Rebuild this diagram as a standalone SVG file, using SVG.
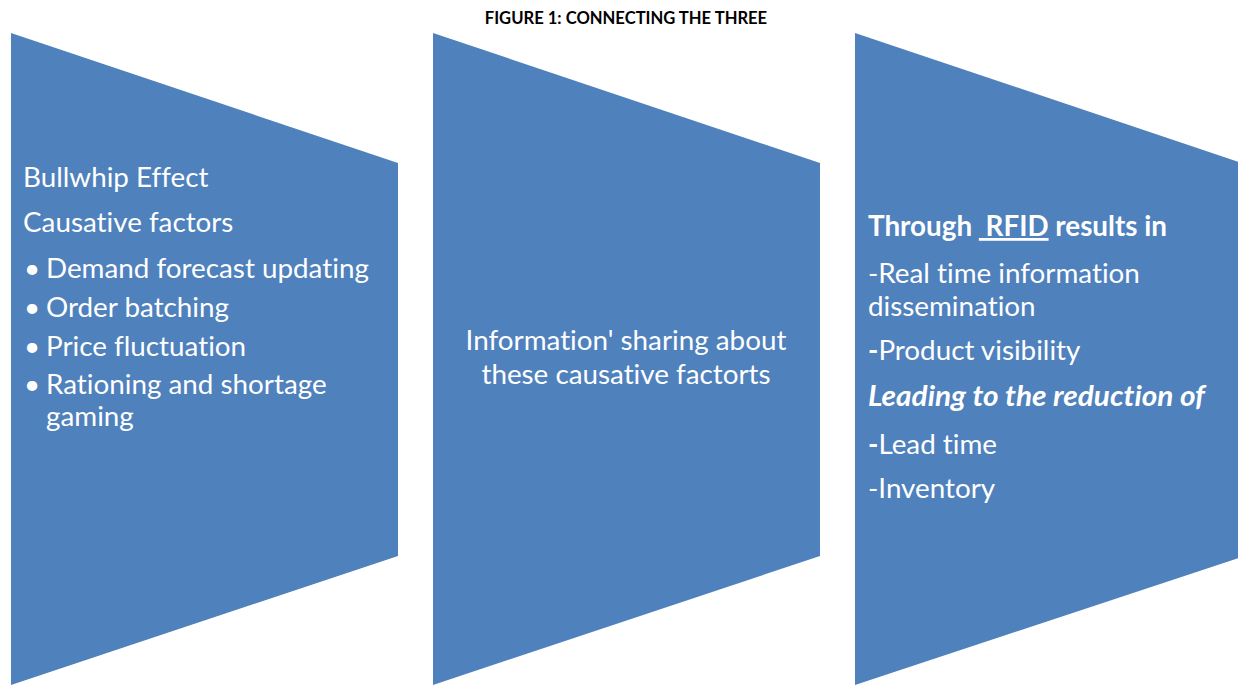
<svg xmlns="http://www.w3.org/2000/svg" width="1238" height="685" viewBox="0 0 1238 685">
  <style>
    .panel { fill: #4F81BD; }
    .t { font-family: Lato, "Liberation Sans", sans-serif; font-size: 27.8px; fill: #ffffff; white-space: pre; font-variant-ligatures: none; }
    .b { font-weight: bold; }
    .bi { font-weight: bold; font-style: italic; }
    .title { font-family: Lato, "Liberation Sans", sans-serif; font-size: 16.6px; font-weight: bold; fill: #000000; }
  </style>
  <rect width="1238" height="685" fill="#ffffff"/>
  <text class="title" x="626" y="24" text-anchor="middle">FIGURE 1: CONNECTING THE THREE</text>

  <!-- Stage 1: bullwhip effect and its causes -->
  <g id="stage-bullwhip">
    <polygon class="panel" points="11,33 398,163 398,556 11,685"/>
    <text class="t" x="23" y="187">Bullwhip Effect</text>
    <text class="t" x="23" y="232">Causative factors</text>
    <text class="t" x="24" y="278">•</text>
    <text class="t" x="46" y="278">Demand forecast updating</text>
    <text class="t" x="24" y="317">•</text>
    <text class="t" x="46" y="317">Order batching</text>
    <text class="t" x="24" y="356">•</text>
    <text class="t" x="46" y="356">Price fluctuation</text>
    <text class="t" x="24" y="394">•</text>
    <text class="t" x="46" y="394">Rationing and shortage</text>
    <text class="t" x="46" y="426">gaming</text>
  </g>

  <!-- Stage 2: information sharing -->
  <g id="stage-sharing">
    <polygon class="panel" points="433,33 820,163 820,556 433,685"/>
    <text class="t" x="626" y="350" text-anchor="middle">Information' sharing about</text>
    <text class="t" x="626" y="384" text-anchor="middle">these causative factorts</text>
  </g>

  <!-- Stage 3: RFID outcomes -->
  <g id="stage-rfid">
    <polygon class="panel" points="855,33 1242,163 1242,557 855,685"/>
    <text class="t b" x="868" y="236">Through <tspan text-decoration="underline"> RFID</tspan> results in</text>
    <text class="t" x="868" y="283">-Real time information</text>
    <text class="t" x="868" y="316">dissemination</text>
    <text class="t" x="868" y="360"><tspan class="b">-</tspan>Product visibility</text>
    <text class="t bi" x="868" y="406" textLength="337" lengthAdjust="spacingAndGlyphs">Leading to the reduction of</text>
    <text class="t" x="868" y="454"><tspan class="b">-</tspan>Lead time</text>
    <text class="t" x="868" y="498">-Inventory</text>
  </g>
</svg>
